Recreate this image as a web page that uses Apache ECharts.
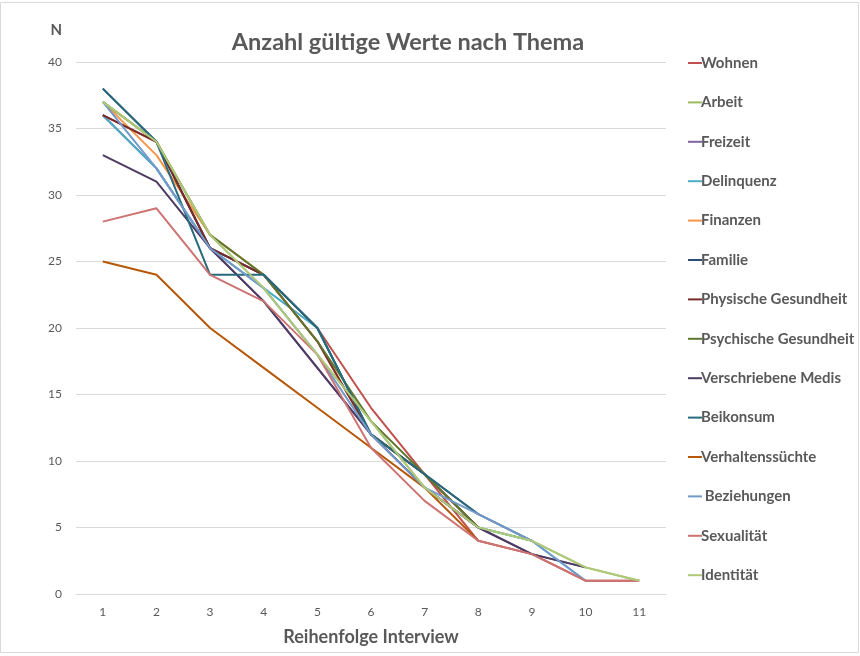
<!DOCTYPE html>
<html lang="de">
<head>
<meta charset="UTF-8">
<title>Anzahl gültige Werte nach Thema</title>
<script src="https://cdn.jsdelivr.net/npm/echarts@6/dist/echarts.min.js"></script>
<style>
  html, body { margin: 0; padding: 0; background: #fff; }
  #main { width: 860px; height: 656px; }
</style>
</head>
<body>
<div id="main"></div>
<script>
// Reihenfolge Interview (x categories)
var categories = ['1', '2', '3', '4', '5', '6', '7', '8', '9', '10', '11'];

// values per topic
var wohnen      = [36, 34, 26, 24, 20, 14, 9, 4, 3, 1, 1];
var arbeit      = [37, 34, 27, 23, 18, 13, 8, 5, 4, 2, 1];
var freizeit    = [36, 32, 26, 22, 17, 12, 8, 5, 3, 2];
var delinquenz  = [36, 32, 26, 23, 20, 12, 9, 5, 4, 1];
var finanzen    = [37, 33, 27, 24, 19, 12, 9, 5];
var familie     = [38, 34, 26, 24, 20, 12, 9, 6, 4];
var physisch    = [36, 34, 26, 24, 19, 12, 9, 5];
var psychisch   = [37, 34, 27, 24, 19, 13, 9, 5];
var medis       = [33, 31, 26, 22, 17, 12, 8, 5, 3, 2];
var beikonsum   = [38, 34, 24, 24, 20, 12, 9, 6];
var verhalten   = [25, 24, 20, 17, 14, 11, 8, 4];
var beziehungen = [37, 32, 26, 23, 18, 12, 8, 6, 4, 1];
var sexualitaet = [28, 29, 24, 22, 18, 11, 7, 4, 3, 1, 1];
var identitaet  = [37, 34, 27, 23, 18, 13, 8, 5, 4, 2, 1];

var names = ['Wohnen', 'Arbeit', 'Freizeit', 'Delinquenz', 'Finanzen', 'Familie',
  'Physische Gesundheit', 'Psychische Gesundheit', 'Verschriebene Medis', 'Beikonsum',
  'Verhaltenssüchte', ' Beziehungen', 'Sexualität', 'Identität'];
var values = [wohnen, arbeit, freizeit, delinquenz, finanzen, familie, physisch,
  psychisch, medis, beikonsum, verhalten, beziehungen, sexualitaet, identitaet];
var colors = ['#C0504D', '#9BBB59', '#8064A2', '#4BACC6', '#F79646', '#2C4D75',
  '#772C2A', '#5F7530', '#4D3B62', '#276A7C', '#B65708', '#729ACA', '#CD7371', '#AFC97A'];

var txt = '#595959';
var font = 'Lato';

var series = names.map(function (n, i) {
  return {
    name: n,
    type: 'line',
    data: values[i],
    symbol: 'none',
    lineStyle: { width: 2, color: colors[i] },
    itemStyle: { color: colors[i] },
    emphasis: { disabled: true }
  };
});

var myChart = echarts.init(document.getElementById('main'));
var option = {
  animation: false,
  color: colors,
  textStyle: { fontFamily: font },
  title: {
    text: 'Anzahl gültige Werte nach Thema',
    left: 403,
    textAlign: 'center',
    top: 25,
    textStyle: { fontFamily: font, fontSize: 23.5, fontWeight: 'bold', color: txt }
  },
  legend: {
    orient: 'vertical',
    left: 683,
    top: 48,
    icon: 'rect',
    itemWidth: 14,
    itemHeight: 2,
    itemGap: 19.4,
    textStyle: { fontFamily: font, fontSize: 15, fontWeight: 'bold', color: txt, lineHeight: 20, padding: [0, 0, 0, -6] },
    data: names
  },
  grid: { left: 76, right: 194, top: 62, bottom: 62 },
  xAxis: {
    type: 'category',
    data: categories,
    boundaryGap: true,
    name: 'Reihenfolge Interview',
    nameLocation: 'middle',
    nameGap: 34,
    nameTextStyle: { fontFamily: font, fontSize: 18, fontWeight: 'bold', color: txt },
    axisLine: { lineStyle: { color: '#d9d9d9' } },
    axisTick: { show: false },
    axisLabel: { color: txt, fontSize: 12, margin: 12 }
  },
  yAxis: {
    type: 'value',
    min: 0,
    max: 40,
    interval: 5,
    name: 'N',
    nameLocation: 'end',
    nameGap: 24,
    nameTextStyle: { fontFamily: font, fontSize: 15, fontWeight: 'bold', color: txt, align: 'right', padding: [0, 14, 0, 0] },
    axisLine: { show: false },
    axisTick: { show: false },
    axisLabel: { color: txt, fontSize: 12, margin: 14 },
    splitLine: { lineStyle: { color: '#d9d9d9', width: 1 } }
  },
  graphic: [{
    type: 'rect',
    shape: { x: 0.5, y: 2.5, width: 858, height: 650 },
    style: { fill: 'none', stroke: '#d9d9d9', lineWidth: 1 },
    silent: true
  }],
  series: series
};
myChart.setOption(option);
</script>
</body>
</html>
